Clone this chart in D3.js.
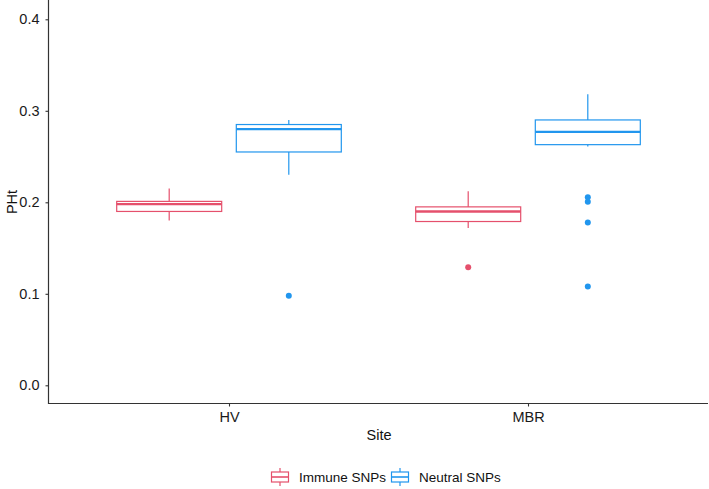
<!DOCTYPE html>
<html><head><meta charset="utf-8">
<script src="https://cdn.jsdelivr.net/npm/d3@7"></script>
<style>body{margin:0;background:#fff}text{font-family:"Liberation Sans",Arial,sans-serif}</style>
</head><body><svg id="c" width="709" height="489"></svg>
<script>
const sites = ["HV", "MBR"];
const groups = ["Immune SNPs", "Neutral SNPs"];
const colors = ["#E5506C", "#2196EE"];
// [site, group, whiskerLow, q1, median, q3, whiskerHigh]
const boxStats = [
  ["HV", "Immune SNPs", 0.180, 0.190, 0.198, 0.201, 0.215],
  ["HV", "Neutral SNPs", 0.230, 0.255, 0.280, 0.285, 0.290],
  ["MBR", "Immune SNPs", 0.172, 0.179, 0.190, 0.195, 0.212],
  ["MBR", "Neutral SNPs", 0.261, 0.263, 0.277, 0.290, 0.318]
];
const outliers = [
  ["HV", "Neutral SNPs", 0.098],
  ["MBR", "Immune SNPs", 0.129],
  ["MBR", "Neutral SNPs", 0.2055],
  ["MBR", "Neutral SNPs", 0.2005],
  ["MBR", "Neutral SNPs", 0.178],
  ["MBR", "Neutral SNPs", 0.108]
];
const yTicks = [0.0, 0.1, 0.2, 0.3, 0.4];

const svg = d3.select("#c");
const left = 48.5, right = 708, bottom = 403.5;
const y = d3.scaleLinear().domain([0, 0.4]).range([385.3, 19.3]);
const x = d3.scalePoint().domain(sites).range([229, 528]);
const unit = 299;
const g = d3.scaleBand().domain(groups).range([-0.4 * unit, 0.4 * unit]);
const color = d3.scaleOrdinal().domain(groups).range(colors);
const bw = 105;

// axes
const yAxis = svg.append("g").attr("transform", `translate(${left},0)`)
  .call(d3.axisLeft(y).tickValues(yTicks).tickFormat(d3.format(".1f")).tickSize(3).tickSizeOuter(0));
yAxis.select(".domain").remove();
const xAxis = svg.append("g").attr("transform", `translate(0,${bottom})`)
  .call(d3.axisBottom(x).tickSize(3).tickSizeOuter(0));
xAxis.select(".domain").remove();
[yAxis, xAxis].forEach(a => {
  a.selectAll("line").attr("stroke", "#333").attr("stroke-width", 1.1);
  a.selectAll("text").attr("fill", "#1a1a1a").style("font-size", "14.5px");
});
yAxis.selectAll("text").attr("x", -9);
xAxis.selectAll("text").attr("y", 8);
svg.append("path").attr("d", `M${left},0V${bottom}H${right}`).attr("fill", "none").attr("stroke", "#333").attr("stroke-width", 1.2);

// boxes
const bx = d => x(d[0]) + g(d[1]) + g.bandwidth() / 2;
const boxes = svg.append("g").selectAll("g").data(boxStats).join("g")
  .attr("stroke", d => color(d[1])).attr("fill", "none");
boxes.append("line").attr("x1", bx).attr("x2", bx).attr("y1", d => y(d[6])).attr("y2", d => y(d[5])).attr("stroke-width", 1.2);
boxes.append("line").attr("x1", bx).attr("x2", bx).attr("y1", d => y(d[3])).attr("y2", d => y(d[2])).attr("stroke-width", 1.2);
boxes.append("rect").attr("x", d => bx(d) - bw / 2).attr("width", bw)
  .attr("y", d => y(d[5])).attr("height", d => y(d[3]) - y(d[5])).attr("fill", "#fff").attr("stroke-width", 1.2);
boxes.append("line").attr("x1", d => bx(d) - bw / 2).attr("x2", d => bx(d) + bw / 2)
  .attr("y1", d => y(d[4])).attr("y2", d => y(d[4])).attr("stroke-width", 2.4);

svg.append("g").selectAll("circle").data(outliers).join("circle")
  .attr("cx", bx).attr("cy", d => y(d[2])).attr("r", 3).attr("fill", d => color(d[1]));

// titles
svg.append("text").attr("x", 379).attr("y", 440).attr("text-anchor", "middle").style("font-size", "14.5px").attr("fill", "#111").text("Site");
svg.append("text").attr("transform", "translate(17,202) rotate(-90)").attr("text-anchor", "middle").style("font-size", "14.5px").attr("fill", "#111").text("PHt");

// legend
const legX = [271, 391];
const leg = svg.append("g").selectAll("g").data(groups).join("g")
  .attr("transform", (d, i) => `translate(${legX[i]},468)`);
leg.append("line").attr("x1", 9).attr("x2", 9).attr("y1", 0).attr("y2", 18).attr("stroke", d => color(d)).attr("stroke-width", 1.2);
leg.append("rect").attr("x", 0.5).attr("y", 4).attr("width", 17).attr("height", 10).attr("fill", "#fff").attr("stroke", d => color(d)).attr("stroke-width", 1.2);
leg.append("line").attr("x1", 0.5).attr("x2", 17.5).attr("y1", 9).attr("y2", 9).attr("stroke", d => color(d)).attr("stroke-width", 1.6);
leg.append("text").attr("x", 28).attr("y", 14).style("font-size", "13.5px").attr("fill", "#111").text(d => d);
</script></body></html>
